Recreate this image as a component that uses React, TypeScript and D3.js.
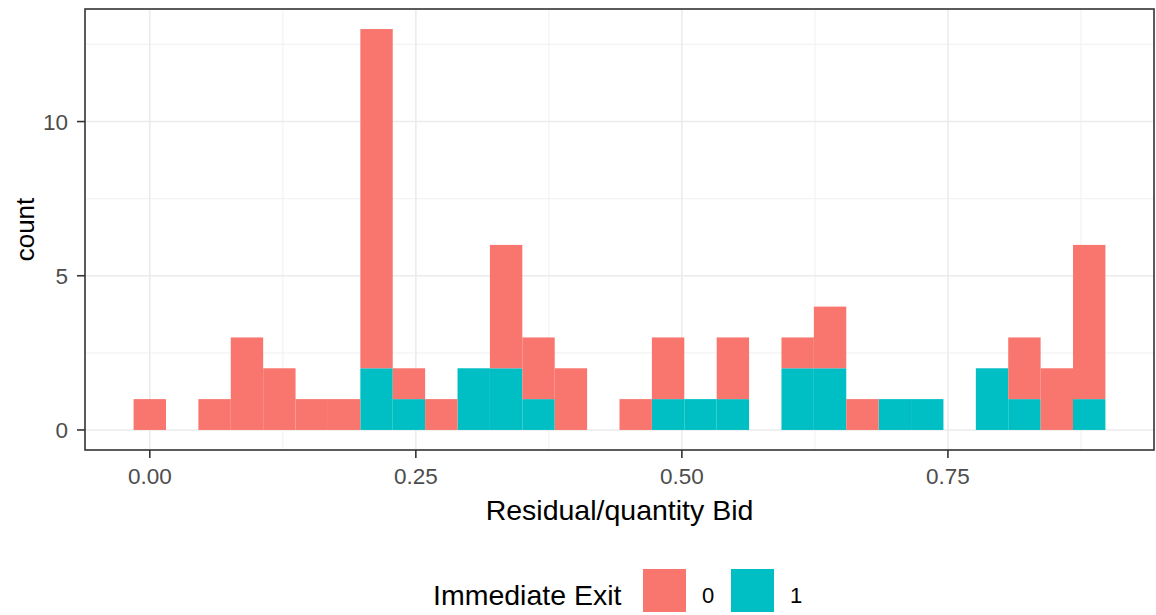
import * as d3 from "d3";
import { useEffect, useRef } from "react";

// bin counts, 30 bins, stacked by Immediate Exit group
const binWidth = 0.03044;
const binCount = 30;
const exit1 = [0, 0, 0, 0, 0, 0, 0, 2, 1, 0, 2, 2, 1, 0, 0, 0, 1, 1, 1, 0, 2, 2, 0, 1, 1, 0, 2, 1, 0, 1];
const exit0 = [1, 0, 1, 3, 2, 1, 1, 11, 1, 1, 0, 4, 2, 2, 0, 1, 2, 0, 2, 0, 1, 2, 1, 0, 0, 0, 0, 2, 2, 5];
const groups = ["0", "1"];
const groupColors = ["#F8766D", "#00BFC4"];
const xTicks = [0, 0.25, 0.5, 0.75];
const xMinor = [0.125, 0.375, 0.625, 0.875];
const yTicks = [0, 5, 10];
const yMinor = [2.5, 7.5, 12.5];

export default function App() {
  const ref = useRef<SVGSVGElement | null>(null);

  useEffect(() => {
    if (!ref.current) return;
    const W = 1156;
    const H = 615;
    const margin = { top: 9, right: 2, bottom: 165, left: 85 };
    const innerW = W - margin.left - margin.right;
    const innerH = H - margin.top - margin.bottom;

    const rows = d3.range(binCount).map((k) => ({
      x0: k * binWidth - binWidth / 2,
      x1: k * binWidth + binWidth / 2,
      a: exit0[k],
      b: exit1[k],
    }));

    const lo = rows[0].x0;
    const hi = rows[rows.length - 1].x1;
    const padX = (hi - lo) * 0.05;
    const x = d3.scaleLinear().domain([lo - padX, hi + padX]).range([0, innerW]);
    const ymax = d3.max(rows, (d) => d.a + d.b) ?? 1;
    const y = d3.scaleLinear().domain([-ymax * 0.05, ymax * 1.05]).range([innerH, 0]);

    const svg = d3.select(ref.current);
    svg.selectAll("*").remove();
    svg.append("rect").attr("width", W).attr("height", H).attr("fill", "#fff");

    const g = svg.append("g").attr("transform", `translate(${margin.left},${margin.top})`);

    // grid
    g.selectAll("line.xminor").data(xMinor).join("line")
      .attr("x1", (d) => x(d)).attr("x2", (d) => x(d)).attr("y1", 0).attr("y2", innerH)
      .attr("stroke", "#F3F3F3").attr("stroke-width", 1.2);
    g.selectAll("line.yminor").data(yMinor).join("line")
      .attr("y1", (d) => y(d)).attr("y2", (d) => y(d)).attr("x1", 0).attr("x2", innerW)
      .attr("stroke", "#F3F3F3").attr("stroke-width", 1.2);
    g.selectAll("line.xmajor").data(xTicks).join("line")
      .attr("x1", (d) => x(d)).attr("x2", (d) => x(d)).attr("y1", 0).attr("y2", innerH)
      .attr("stroke", "#EBEBEB").attr("stroke-width", 1.5);
    g.selectAll("line.ymajor").data(yTicks).join("line")
      .attr("y1", (d) => y(d)).attr("y2", (d) => y(d)).attr("x1", 0).attr("x2", innerW)
      .attr("stroke", "#EBEBEB").attr("stroke-width", 1.5);

    // bars: group 1 at bottom, group 0 stacked on top
    g.selectAll("rect.b1").data(rows.filter((d) => d.b > 0)).join("rect")
      .attr("x", (d) => x(d.x0)).attr("width", (d) => x(d.x1) - x(d.x0))
      .attr("y", (d) => y(d.b)).attr("height", (d) => y(0) - y(d.b))
      .attr("fill", groupColors[1]);
    g.selectAll("rect.b0").data(rows.filter((d) => d.a > 0)).join("rect")
      .attr("x", (d) => x(d.x0)).attr("width", (d) => x(d.x1) - x(d.x0))
      .attr("y", (d) => y(d.a + d.b)).attr("height", (d) => y(d.b) - y(d.a + d.b))
      .attr("fill", groupColors[0]);

    // border
    g.append("rect").attr("width", innerW).attr("height", innerH)
      .attr("fill", "none").attr("stroke", "#333").attr("stroke-width", 1.6);

    const font = "'Liberation Sans', Arial, sans-serif";
    const tickSize = 22.5;

    // x axis
    const xa = g.append("g").attr("transform", `translate(0,${innerH})`);
    xTicks.forEach((t) => {
      xa.append("line").attr("x1", x(t)).attr("x2", x(t)).attr("y1", 0).attr("y2", 8)
        .attr("stroke", "#333").attr("stroke-width", 1.6);
      xa.append("text").attr("x", x(t)).attr("y", 34).attr("text-anchor", "middle")
        .attr("font-family", font).attr("font-size", tickSize).attr("fill", "#4D4D4D")
        .text(d3.format(".2f")(t));
    });

    // y axis
    yTicks.forEach((t) => {
      g.append("line").attr("x1", -8).attr("x2", 0).attr("y1", y(t)).attr("y2", y(t))
        .attr("stroke", "#333").attr("stroke-width", 1.6);
      g.append("text").attr("x", -17).attr("y", y(t)).attr("dy", "0.36em").attr("text-anchor", "end")
        .attr("font-family", font).attr("font-size", tickSize).attr("fill", "#4D4D4D")
        .text(t);
    });

    // titles
    svg.append("text").attr("x", margin.left + innerW / 2).attr("y", 520).attr("text-anchor", "middle")
      .attr("font-family", font).attr("font-size", 28.5).attr("fill", "#000").text("Residual/quantity Bid");
    svg.append("text").attr("transform", `translate(34,${margin.top + innerH / 2}) rotate(-90)`)
      .attr("text-anchor", "middle").attr("font-family", font).attr("font-size", 26).attr("fill", "#000")
      .text("count");

    // legend
    const lg = svg.append("g");
    lg.append("text").attr("x", 433).attr("y", 605).attr("font-family", font).attr("font-size", 28.5)
      .attr("fill", "#000").text("Immediate Exit");
    const keyX = [643, 731];
    groups.forEach((grp, i) => {
      lg.append("rect").attr("x", keyX[i]).attr("y", 569).attr("width", 43).attr("height", 43)
        .attr("fill", groupColors[i]);
      lg.append("text").attr("x", keyX[i] + 59).attr("y", 603).attr("font-family", font)
        .attr("font-size", 22).attr("fill", "#000").text(grp);
    });
  }, []);

  return (
    <div style={{ position: "absolute", left: 0, top: 0 }}>
      <svg ref={ref} width={1156} height={615} style={{ display: "block" }} />
    </div>
  );
}
